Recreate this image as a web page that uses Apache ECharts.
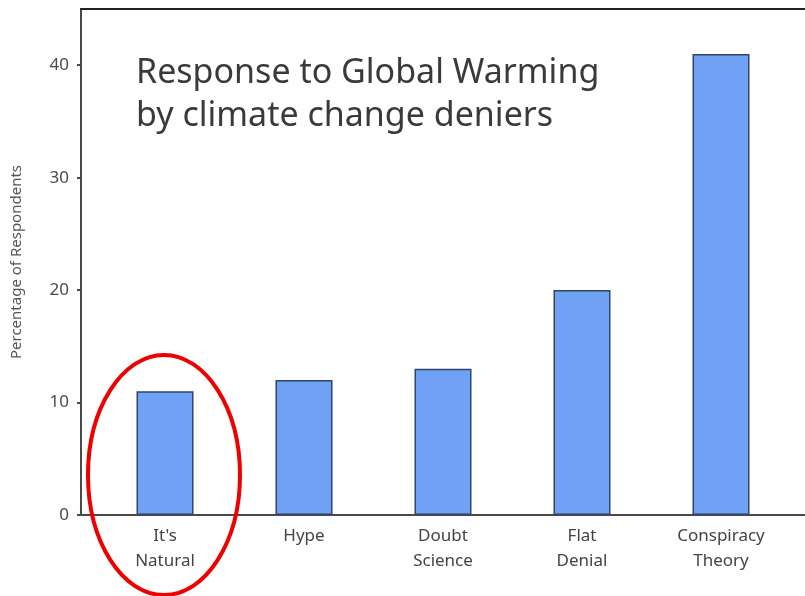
<!DOCTYPE html>
<html>
<head>
<meta charset="utf-8">
<style>
  html, body { margin: 0; padding: 0; background: #fff; }
  #container { width: 805px; height: 596px; }
</style>
<script src="https://cdn.jsdelivr.net/npm/echarts@6/dist/echarts.min.js"></script>
</head>
<body>
<div id="container"></div>
<script>
var dom = document.getElementById('container');
var myChart = echarts.init(dom, null, { renderer: 'canvas' });

const categories = ["It's\nNatural", 'Hype', 'Doubt\nScience', 'Flat\nDenial', 'Conspiracy\nTheory'];
const percentages = [11, 12, 13, 20, 41];
const yTicks = [0, 10, 20, 30, 40];

const barFill = '#70a1f4';
const barEdge = '#2f4468';
const axisColor = '#4a4a4a';
const font = 'Noto Sans';

var option = {
  backgroundColor: '#fff',
  title: {
    text: 'Response to Global Warming\nby climate change deniers',
    left: 131,
    top: 47,
    textStyle: {
      fontFamily: font,
      fontSize: 34,
      fontWeight: 'normal',
      color: '#3a3a3a',
      lineHeight: 43
    }
  },
  grid: [
    // bars
    { left: 95.5, right: 14.5, top: 9, bottom: 81 },
    // frame + y axis
    { left: 81, right: 0, top: 9, bottom: 81 }
  ],
  xAxis: [
    {
      type: 'category',
      gridIndex: 0,
      data: categories,
      axisLine: { show: false },
      axisTick: { show: false },
      axisLabel: {
        fontFamily: font,
        fontSize: 17,
        color: '#444',
        lineHeight: 25,
        margin: 9
      }
    },
    {
      type: 'value',
      gridIndex: 1,
      min: 0,
      max: 1,
      axisLine: { show: true, lineStyle: { color: axisColor, width: 2 } },
      axisTick: { show: false },
      axisLabel: { show: false },
      splitLine: { show: false }
    },
    {
      type: 'value',
      gridIndex: 1,
      position: 'top',
      min: 0,
      max: 1,
      axisLine: { show: true, lineStyle: { color: '#222', width: 2 } },
      axisTick: { show: false },
      axisLabel: { show: false },
      splitLine: { show: false }
    }
  ],
  yAxis: [
    {
      type: 'value',
      gridIndex: 0,
      min: 0,
      max: 45,
      show: false
    },
    {
      type: 'value',
      gridIndex: 1,
      min: 0,
      max: 45,
      interval: 10,
      name: 'Percentage of Respondents',
      nameLocation: 'middle',
      nameGap: 57,
      nameTextStyle: { fontFamily: font, fontSize: 15, color: '#555' },
      axisLine: { show: true, lineStyle: { color: axisColor, width: 2 } },
      axisTick: { show: true, length: 4, customValues: yTicks, lineStyle: { color: axisColor, width: 2 } },
      axisLabel: { customValues: yTicks, fontFamily: font, fontSize: 17, color: '#4a4a4a', margin: 12 },
      splitLine: { show: false }
    }
  ],
  series: [
    {
      type: 'bar',
      xAxisIndex: 0,
      yAxisIndex: 0,
      data: percentages,
      barWidth: 57,
      itemStyle: { color: barFill, borderColor: barEdge, borderWidth: 1.5 }
    }
  ]
};

myChart.setOption(option);

// red ellipse drawn around the first bar
var c = myChart.convertToPixel({ xAxisIndex: 0, yAxisIndex: 0 }, [0, 0]);
myChart.setOption({
  graphic: [
    {
      type: 'ellipse',
      shape: { cx: c[0] - 1, cy: c[1] - 40, rx: 76, ry: 120 },
      style: { fill: 'none', stroke: '#ee0000', lineWidth: 4 },
      z: 100
    }
  ]
});

window.addEventListener('resize', myChart.resize);
</script>
</body>
</html>
